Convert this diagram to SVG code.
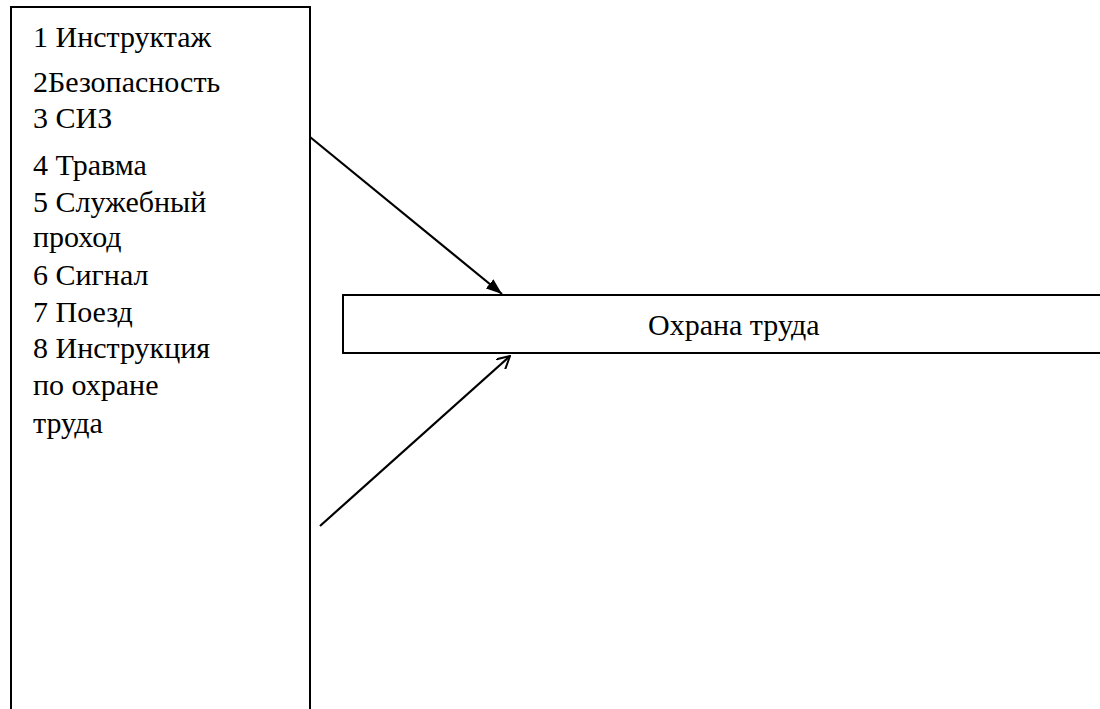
<svg xmlns="http://www.w3.org/2000/svg" width="1100" height="709" viewBox="0 0 1100 709">
<style>
.box{fill:#fff;stroke:#000;stroke-width:2}
.ln{stroke:#000;stroke-width:2.2;fill:none}
</style>
<defs>
<marker id="fill" viewBox="0 0 16 12" refX="16" refY="6" markerWidth="16" markerHeight="12" markerUnits="userSpaceOnUse" orient="auto">
<path d="M0,0 L16,6 L0,12 z" fill="#000"/>
</marker>
<marker id="open" viewBox="0 0 14 14" refX="13" refY="7" markerWidth="14" markerHeight="14" markerUnits="userSpaceOnUse" orient="auto">
<path d="M0,0 L13,7 L0,14" fill="none" stroke="#000" stroke-width="2"/>
</marker>
</defs>
<rect width="1100" height="709" fill="#fff"/>
<g id="list" font-family="Liberation Serif, serif" font-size="30" fill="#000">
<path class="box" d="M11,712 L11,7 L310,7 L310,712"/>
<text x="33" y="47">1 Инструктаж</text>
<text x="33" y="92">2Безопасность</text>
<text x="33" y="128">3 СИЗ</text>
<text x="33" y="175">4 Травма</text>
<text x="33" y="212">5 Служебный</text>
<text x="33" y="247">проход</text>
<text x="33" y="285">6 Сигнал</text>
<text x="33" y="322">7 Поезд</text>
<text x="33" y="358">8 Инструкция</text>
<text x="33" y="395">по охране</text>
<text x="33" y="433">труда</text>
</g>
<g id="main" font-family="Liberation Serif, serif" font-size="30" fill="#000">
<rect class="box" x="343" y="295" width="770" height="58"/>
<text x="648" y="335">Охрана труда</text>
</g>
<g id="connectors">
<line class="ln" x1="310" y1="137" x2="502" y2="294" marker-end="url(#fill)"/>
<line class="ln" x1="320" y1="526" x2="510" y2="356" marker-end="url(#open)"/>
</g>
</svg>
